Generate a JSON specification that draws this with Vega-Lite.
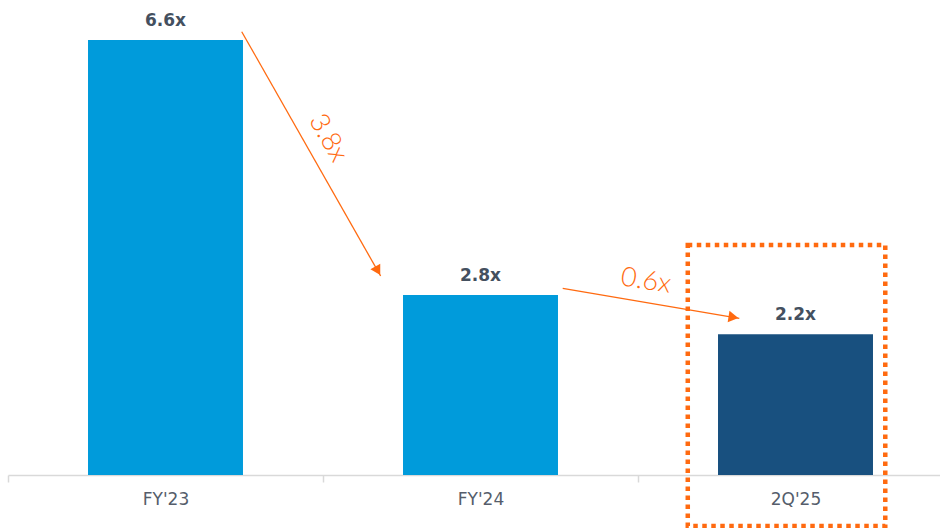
{
  "$schema": "https://vega.github.io/schema/vega-lite/v6.json",
  "width": 932,
  "height": 475,
  "autosize": "none",
  "padding": {"left": 8, "top": 0, "right": 0, "bottom": 53},
  "background": "white",
  "config": {"view": {"stroke": null}, "font": "DejaVu Sans"},
  "datasets": {
    "bars": [
      {"period": "FY'23", "value": 6.64, "label": "6.6x"},
      {"period": "FY'24", "value": 2.75, "label": "2.8x"},
      {"period": "2Q'25", "value": 2.15, "label": "2.2x"}
    ],
    "arrows": [
      {"x": 0.242, "y": 6.768, "x2": 0.683, "y2": 3.038},
      {"x": 1.261, "y": 2.85, "x2": 1.8216, "y2": 2.392}
    ],
    "heads": [
      {"x": 0.674, "y": 3.118, "angle": 150},
      {"x": 1.803, "y": 2.408, "angle": 99}
    ],
    "notes": [
      {"x": 0.516, "y": 5.145, "text": "3.8x", "angle": 60},
      {"x": 1.525, "y": 2.962, "text": "0.6x", "angle": 9}
    ],
    "box": [
      {"x": 1.658, "x2": 2.285, "y": 3.511, "y2": -0.779}
    ]
  },
  "layer": [
    {
      "data": {"name": "bars"},
      "mark": {"type": "bar", "width": {"band": 0.492}},
      "encoding": {
        "x": {
          "field": "period", "type": "nominal", "sort": null,
          "scale": {"range": [0, 945], "paddingInner": 0, "paddingOuter": 0},
          "axis": {
            "title": null, "labelAngle": 0, "domainColor": "#d9d9d9", "domainWidth": 1.5,
            "tickColor": "#d9d9d9", "tickWidth": 1.5, "tickSize": 7, "tickBand": "extent",
            "labelFontSize": 17, "labelColor": "#555d6b", "labelPadding": 9, "labelFont": "DejaVu Sans"
          }
        },
        "y": {"field": "value", "type": "quantitative", "scale": {"domain": [0, 7.252], "nice": false, "zero": true}, "axis": null},
        "color": {
          "field": "period", "type": "nominal",
          "scale": {"domain": ["FY'23", "FY'24", "2Q'25"], "range": ["#009bdb", "#009bdb", "#18507f"]},
          "legend": null
        }
      }
    },
    {
      "data": {"name": "bars"},
      "mark": {"type": "text", "dy": -14, "baseline": "alphabetic", "fontSize": 17, "fontWeight": "bold", "color": "#44505f", "font": "DejaVu Sans"},
      "encoding": {
        "x": {"field": "period", "type": "nominal", "sort": null, "scale": {"range": [0, 945], "paddingInner": 0, "paddingOuter": 0}, "axis": null},
        "y": {"field": "value", "type": "quantitative"},
        "text": {"field": "label"}
      }
    },
    {
      "data": {"name": "box"},
      "mark": {"type": "rect", "filled": false, "stroke": "#ff6a10", "strokeWidth": 4.5, "strokeDash": [4.5, 4.5]},
      "encoding": {
        "x": {"field": "x", "type": "quantitative", "scale": {"domain": [-0.5, 2.5], "range": [0, 945], "nice": false, "zero": false}, "axis": null},
        "x2": {"field": "x2"},
        "y": {"field": "y", "type": "quantitative"},
        "y2": {"field": "y2"}
      }
    },
    {
      "data": {"name": "arrows"},
      "mark": {"type": "rule", "stroke": "#ff6a10", "strokeWidth": 1.3},
      "encoding": {
        "x": {"field": "x", "type": "quantitative", "scale": {"domain": [-0.5, 2.5], "range": [0, 945], "nice": false, "zero": false}, "axis": null},
        "x2": {"field": "x2"},
        "y": {"field": "y", "type": "quantitative"},
        "y2": {"field": "y2"}
      }
    },
    {
      "data": {"name": "heads"},
      "mark": {"type": "point", "shape": "triangle-up", "filled": true, "color": "#ff6a10", "size": 130, "opacity": 1},
      "encoding": {
        "x": {"field": "x", "type": "quantitative", "scale": {"domain": [-0.5, 2.5], "range": [0, 945], "nice": false, "zero": false}, "axis": null},
        "y": {"field": "y", "type": "quantitative"},
        "angle": {"field": "angle", "type": "quantitative", "scale": null}
      }
    },
    {
      "data": {"name": "notes"},
      "mark": {"type": "text", "fontSize": 27, "fontWeight": 300, "color": "#ff6a10", "font": "Lato", "align": "center", "baseline": "middle"},
      "encoding": {
        "x": {"field": "x", "type": "quantitative", "scale": {"domain": [-0.5, 2.5], "range": [0, 945], "nice": false, "zero": false}, "axis": null},
        "y": {"field": "y", "type": "quantitative"},
        "text": {"field": "text"},
        "angle": {"field": "angle", "type": "quantitative", "scale": null}
      }
    }
  ],
  "resolve": {"scale": {"x": "independent"}}
}
